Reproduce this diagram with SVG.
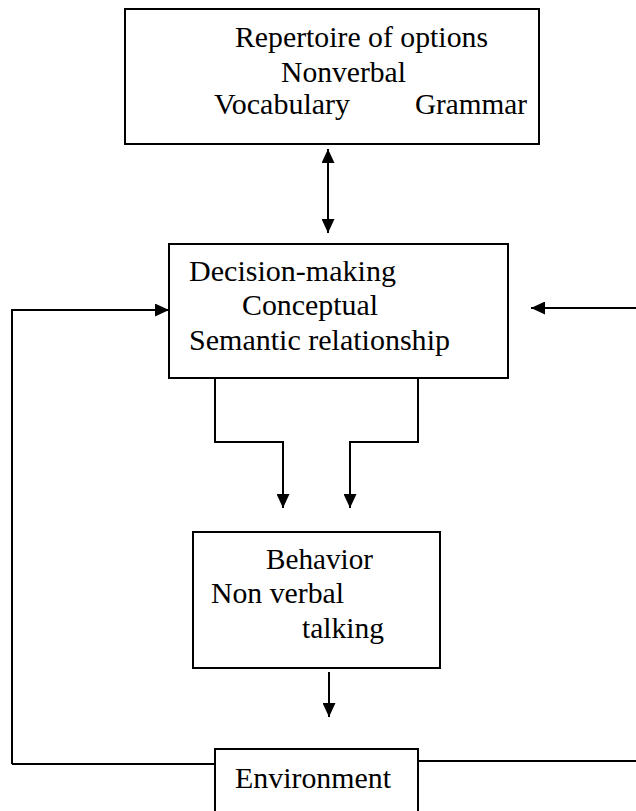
<svg xmlns="http://www.w3.org/2000/svg" width="636" height="811" viewBox="0 0 636 811">
<style>
.box{fill:#fff;stroke:#000;stroke-width:2}
.t{font-family:"Liberation Serif","Times New Roman",serif;font-size:29.5px;fill:#000}
.c{fill:none;stroke:#000;stroke-width:2}
</style>
<defs>
<marker id="ah" viewBox="0 0 14 13" refX="14" refY="6.5" markerWidth="14" markerHeight="13" markerUnits="userSpaceOnUse" orient="auto-start-reverse">
<path d="M0,0 L14,6.5 L0,13 z" fill="#000"/>
</marker>
</defs>
<rect width="636" height="811" fill="#fff"/>
<g id="connectors">
<line class="c" x1="328" y1="149" x2="328" y2="233" marker-start="url(#ah)" marker-end="url(#ah)"/>
<path class="c" d="M12,764 L12,310 L169,310" marker-end="url(#ah)"/>
<path class="c" d="M12,764 L215,764"/>
<line class="c" x1="636" y1="308" x2="531" y2="308" marker-end="url(#ah)"/>
<path class="c" d="M215,378 V442 H283 V508" marker-end="url(#ah)"/>
<path class="c" d="M418,378 V442 H350 V508" marker-end="url(#ah)"/>
<line class="c" x1="329" y1="672" x2="329" y2="717" marker-end="url(#ah)"/>
<path class="c" d="M418,761 L636,761"/>
</g>
<g id="repertoire">
<rect class="box" x="125" y="9" width="414" height="135"/>
<text class="t" x="235" y="47" textLength="253" lengthAdjust="spacingAndGlyphs">Repertoire of options</text>
<text class="t" x="281" y="82" textLength="125" lengthAdjust="spacingAndGlyphs">Nonverbal</text>
<text class="t" x="214" y="114" textLength="136" lengthAdjust="spacingAndGlyphs">Vocabulary</text>
<text class="t" x="415" y="114" textLength="112" lengthAdjust="spacingAndGlyphs">Grammar</text>
</g>
<g id="decision">
<rect class="box" x="169" y="244" width="339" height="134"/>
<text class="t" x="189" y="281" textLength="207" lengthAdjust="spacingAndGlyphs">Decision-making</text>
<text class="t" x="242" y="315" textLength="136" lengthAdjust="spacingAndGlyphs">Conceptual</text>
<text class="t" x="189" y="350" textLength="261" lengthAdjust="spacingAndGlyphs">Semantic relationship</text>
</g>
<g id="behavior">
<rect class="box" x="193" y="532" width="247" height="136"/>
<text class="t" x="266" y="569" textLength="107" lengthAdjust="spacingAndGlyphs">Behavior</text>
<text class="t" x="211" y="603" textLength="133" lengthAdjust="spacingAndGlyphs">Non verbal</text>
<text class="t" x="302" y="638" textLength="82" lengthAdjust="spacingAndGlyphs">talking</text>
</g>
<g id="environment">
<rect class="box" x="215" y="749" width="203" height="80"/>
<text class="t" x="235" y="788" textLength="156" lengthAdjust="spacingAndGlyphs">Environment</text>
</g>
</svg>
